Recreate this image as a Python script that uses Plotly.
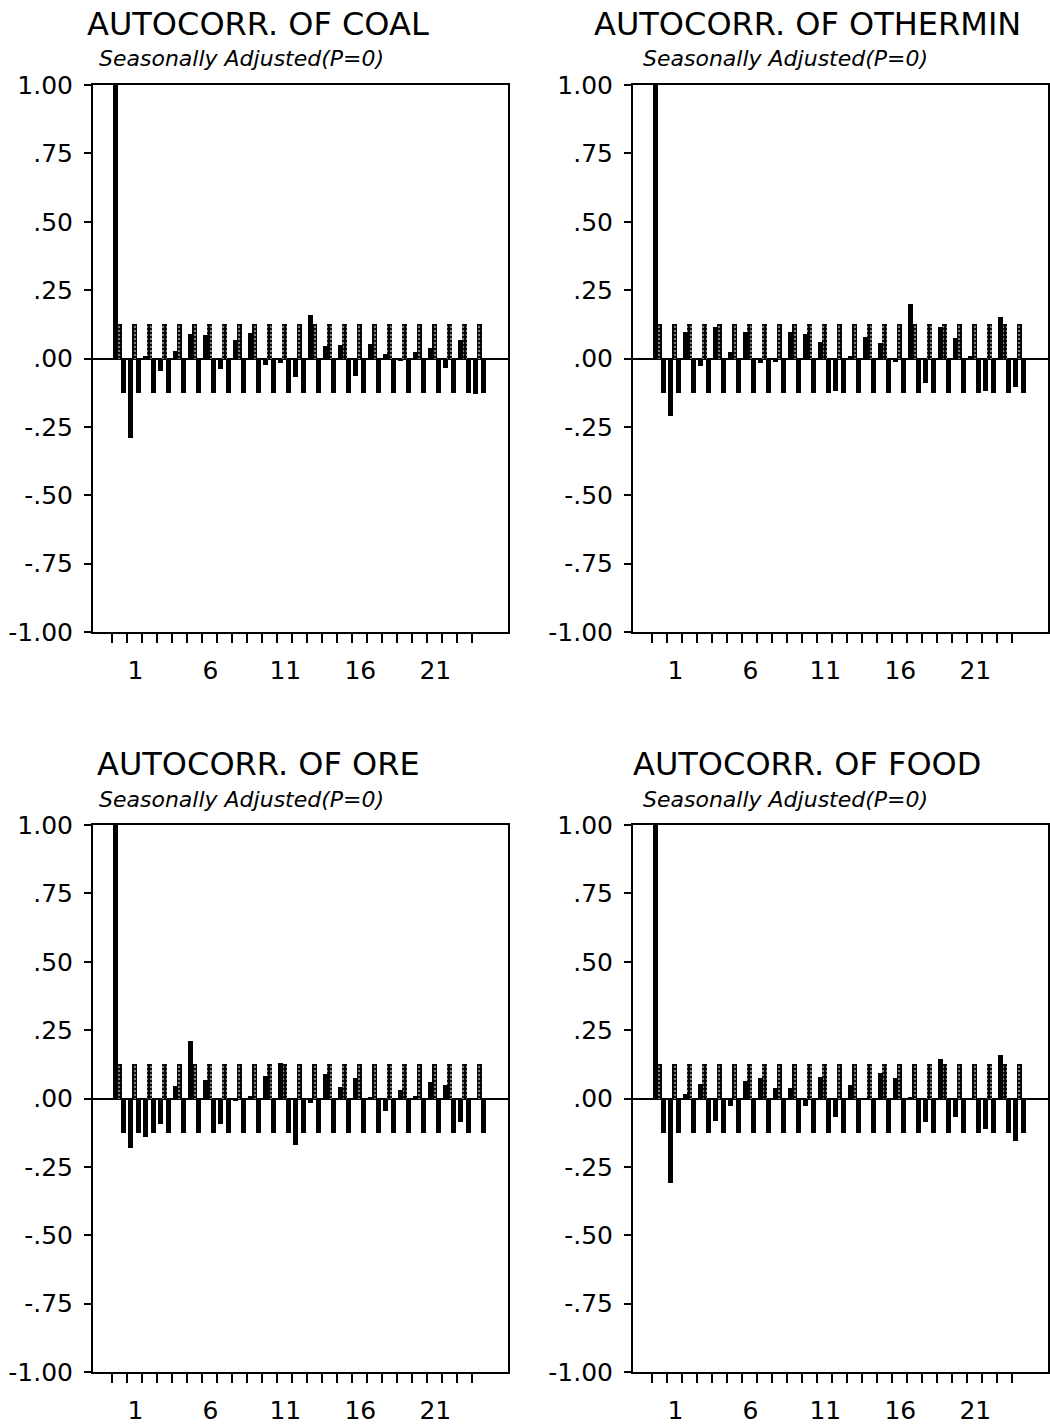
import plotly.graph_objects as go

# ---------------- data ----------------
LAGS = list(range(25))
COAL = [1.0, -0.29, 0.01, -0.044, 0.027, 0.088, 0.085, -0.037, 0.066, 0.094, -0.022, -0.016,
        -0.068, 0.158, 0.045, 0.049, -0.065, 0.054, 0.017, -0.01, 0.023, 0.037, -0.034, 0.066, -0.13]
OTHERMIN = [1.0, -0.21, 0.098, -0.027, 0.116, 0.024, 0.098, -0.015, -0.012, 0.098, 0.089, 0.061,
            -0.12, 0.01, 0.08, 0.058, -0.011, 0.2, -0.088, 0.116, 0.074, 0.01, -0.118, 0.15, -0.106]
ORE = [1.0, -0.18, -0.14, -0.093, 0.045, 0.21, 0.066, -0.093, -0.01, 0.009, 0.084, 0.13,
       -0.17, -0.016, 0.088, 0.043, 0.076, 0.006, -0.046, 0.03, 0.009, 0.06, 0.048, -0.087, -0.003]
FOOD = [1.0, -0.31, 0.017, 0.054, -0.083, -0.028, 0.063, 0.076, 0.039, 0.039, -0.028, 0.078,
        -0.067, 0.051, -0.007, 0.094, 0.076, 0.005, -0.085, 0.145, -0.068, 0.0, -0.11, 0.16, -0.155]
SERIES_NAMES = ["COAL", "OTHERMIN", "ORE", "FOOD"]
SERIES_VALUES = [COAL, OTHERMIN, ORE, FOOD]
CONF_LIMIT = 0.125
UPPER_BAND = [CONF_LIMIT for _ in LAGS]
LOWER_BAND = [-CONF_LIMIT for _ in LAGS]
Y_TICK_VALUES = [1.0, 0.75, 0.5, 0.25, 0.0, -0.25, -0.5, -0.75, -1.0]
Y_TICK_LABELS = ["1.00", ".75", ".50", ".25", ".00", "-.25", "-.50", "-.75", "-1.00"]
X_TICK_LABELS = ["1", "6", "11", "16", "21"]
SUBTITLE = "Seasonally Adjusted(P=0)"

# ---------------- layout geometry (pixels) ----------------
W, H = 1050, 1425
FONT = "DejaVu Sans"
PANELS = [  # left, right, top, bottom, title centre x, subtitle centre x
    (93, 508, 85, 632, 258, 241),
    (633, 1048, 85, 632, 807, 785),
    (93, 508, 825, 1372, 258, 241),
    (633, 1048, 825, 1372, 807, 785),
]

def px_x(v):
    return v / W

def px_y(v):
    return 1 - v / H

fig = go.Figure()
tick_positions = [j - 0.5 for j in LAGS]
tick_text = [""] * len(LAGS)
for lab in X_TICK_LABELS:
    tick_text[int(lab)] = lab

for i, (name, vals) in enumerate(zip(SERIES_NAMES, SERIES_VALUES)):
    xa = "x" if i == 0 else f"x{i+1}"
    ya = "y" if i == 0 else f"y{i+1}"
    # confidence band (upper, dotted)
    fig.add_trace(go.Bar(x=LAGS, y=UPPER_BAND, xaxis=xa, yaxis=ya, width=0.34, offset=-0.17,
                         marker=dict(color="black", line=dict(width=0),
                                     pattern=dict(shape=".", fgcolor="white", bgcolor="black",
                                                  size=4, solidity=0.3)),
                         hoverinfo="skip"))
    # confidence band (lower, solid)
    fig.add_trace(go.Bar(x=LAGS, y=LOWER_BAND, xaxis=xa, yaxis=ya, width=0.34, offset=0.06,
                         marker=dict(color="black", line=dict(width=0)), hoverinfo="skip"))
    # autocorrelations
    fig.add_trace(go.Bar(x=LAGS, y=vals, xaxis=xa, yaxis=ya, width=0.36, offset=-0.47,
                         marker=dict(color="black", line=dict(width=0)), name=name))

    l, r, t, b, tx, sx = PANELS[i]
    xkey = "xaxis" if i == 0 else f"xaxis{i+1}"
    ykey = "yaxis" if i == 0 else f"yaxis{i+1}"
    fig.layout[xkey] = dict(
        domain=[px_x(l), px_x(r)], range=[-1.79, 25.88], anchor=ya, automargin=False,
        tickmode="array", tickvals=tick_positions, ticktext=tick_text,
        ticks="outside", ticklen=9, tickwidth=2, tickcolor="black",
        showline=True, linewidth=2, linecolor="black", mirror=True,
        showgrid=False, zeroline=False,
        tickfont=dict(family=FONT, size=25, color="black"),
        ticklabelshift=8, ticklabelstandoff=6,
    )
    fig.layout[ykey] = dict(
        domain=[px_y(b), px_y(t)], range=[-1, 1], anchor=xa, automargin=False,
        tickmode="array", tickvals=Y_TICK_VALUES, ticktext=Y_TICK_LABELS,
        ticks="outside", ticklen=7, tickwidth=2, tickcolor="black",
        showline=True, linewidth=2, linecolor="black", mirror=True,
        showgrid=False, zeroline=True, zerolinecolor="black", zerolinewidth=2,
        tickfont=dict(family=FONT, size=25, color="black"),
        ticklabelstandoff=6,
    )
    fig.add_annotation(text=f"AUTOCORR. OF {name}", xref="paper", yref="paper",
                       x=px_x(tx), y=px_y(t - 61), xanchor="center", yanchor="middle",
                       showarrow=False, borderpad=0,
                       font=dict(family=FONT, size=32, color="black"))
    fig.add_annotation(text=f"<i>{SUBTITLE}</i>", xref="paper", yref="paper",
                       x=px_x(sx), y=px_y(t - 26), xanchor="center", yanchor="middle",
                       showarrow=False, borderpad=0,
                       font=dict(family=FONT, size=22, color="black"))

fig.update_layout(
    width=W, height=H, margin=dict(l=0, r=0, t=0, b=0, autoexpand=False),
    paper_bgcolor="white", plot_bgcolor="white",
    barmode="overlay", bargap=0, showlegend=False,
)

fig.write_html("out.html")
